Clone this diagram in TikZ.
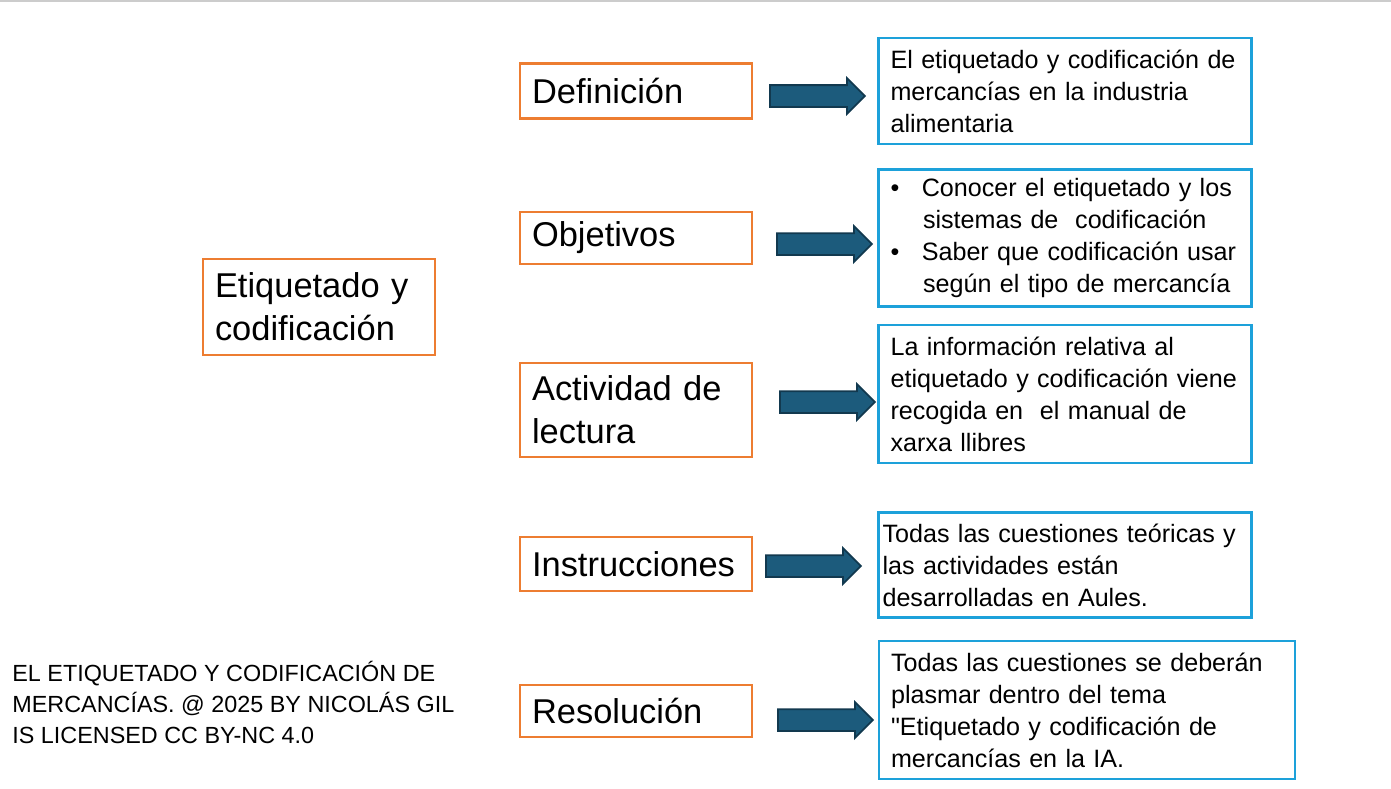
\documentclass[tikz,border=0pt]{standalone}
\usepackage{fontspec}
\setmainfont{Liberation Sans}
\newcommand{\straightquote}{\XeTeXglyph\XeTeXcharglyph"22\relax}
\usetikzlibrary{shapes.arrows,positioning}
\definecolor{orangeb}{HTML}{ED7D31}
\definecolor{blueb}{HTML}{1DA1DA}
\definecolor{arrowf}{HTML}{1C5B7C}
\definecolor{arrowd}{HTML}{12394F}
\begin{document}
\begin{tikzpicture}[x=0.02cm,y=-0.02cm, line width=1.6pt]
% Styles
\tikzset{
  topic/.style={draw=orangeb,fill=white,outer sep=0pt,inner sep=0pt,align=left,font=\fontsize{19.6}{24.5}\selectfont},
  info/.style={draw=blueb,fill=white,outer sep=0pt,inner sep=0pt,align=left,font=\fontsize{14.3}{18.2}\selectfont},
  blockarrow/.style={single arrow,draw=arrowd,fill=arrowf,line width=1pt,minimum height=1.9cm,inner xsep=0pt,inner ysep=0.2cm,single arrow head extend=0.14cm,single arrow tip angle=90,outer sep=0pt}
}
\useasboundingbox (0,0) rectangle (1391,788);
\draw[gray!40,line width=0.6pt] (0,1) -- (1391,1);
% Main topic
\node[topic,minimum width=4.64cm,minimum height=1.92cm,text width=4.16cm] (main) at (319,307) {Etiquetado y\\codificación};
% Left blocks
\node[topic,minimum width=4.64cm,minimum height=1.1cm,text width=4.16cm] (def) at (636,91) {Definición};
\node[topic,minimum width=4.64cm,minimum height=1.04cm,text width=4.16cm] (obj) at (636,238) {Objetivos};
\node[topic,minimum width=4.64cm,minimum height=1.88cm,text width=4.16cm] (act) at (636,410) {Actividad de\\lectura};
\node[topic,minimum width=4.64cm,minimum height=1.08cm,text width=4.16cm] (ins) at (636,564) {Instrucciones};
\node[topic,minimum width=4.64cm,minimum height=1.04cm,text width=4.16cm] (res) at (636,711) {Resolución};
% Right blocks
\node[info,minimum width=7.46cm,minimum height=2.12cm,text width=6.98cm] (idef) at (1065,91) {El etiquetado y codificación de\\mercancías en la industria\\alimentaria};
\node[info,minimum width=7.46cm,minimum height=2.74cm,text width=6.98cm] (iobj) at (1065,238) {\textbullet\hspace{0.45cm}Conocer el etiquetado y los\\\hspace*{0.65cm}sistemas de\ \ codificación\\\textbullet\hspace{0.45cm}Saber que codificación usar\\\hspace*{0.65cm}según el tipo de mercancía};
\node[info,minimum width=7.46cm,minimum height=2.76cm,text width=6.98cm] (iact) at (1065,394) {La información relativa al\\etiquetado y codificación viene\\recogida en\ \ el manual de\\xarxa llibres};
\node[info,minimum width=7.46cm,minimum height=2.1cm,text width=7.3cm] (iins) at (1065,565) {Todas las cuestiones teóricas y\\las actividades están\\desarrolladas en Aules.};
\node[info,minimum width=8.32cm,minimum height=2.76cm,text width=7.84cm] (ires) at (1087,710) {Todas las cuestiones se deberán\\plasmar dentro del tema\\\straightquote Etiquetado y codificación de\\mercancías en la IA.};
% Arrows
\node[blockarrow] (ar1) at (812,96) {};
\node[blockarrow] (ar2) at (819,244) {};
\node[blockarrow] (ar3) at (822,402) {};
\node[blockarrow] (ar4) at (808,566) {};
\node[blockarrow] (ar5) at (820,720) {};
% Footer
\node[anchor=north west,align=left,inner sep=0pt,font=\fontsize{13.3}{17.5}\selectfont] (lic) at (11,660) {EL ETIQUETADO Y CODIFICACIÓN DE\\MERCANCÍAS. @ 2025 BY NICOLÁS GIL\\IS LICENSED CC BY-NC 4.0};
\end{tikzpicture}
\end{document}
